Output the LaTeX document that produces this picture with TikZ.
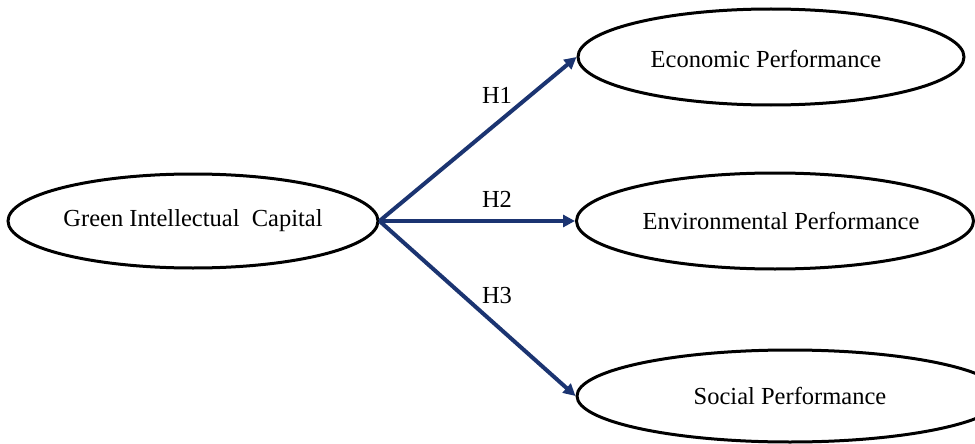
\documentclass[tikz,border=0pt]{standalone}
\usepackage{fontspec}
\setmainfont{Liberation Serif}
\usetikzlibrary{shapes.geometric,arrows.meta}
\definecolor{navy}{HTML}{1B3471}
\tikzset{
  construct/.style={ellipse, draw=black, line width=3pt, inner sep=0pt, font=\fontsize{24.5}{28}\selectfont},
  hyp/.style={draw=navy, line width=4pt, -{Triangle[length=12pt,width=12pt]}},
  hlabel/.style={font=\fontsize{24.5}{28}\selectfont}
}
\begin{document}
\begin{tikzpicture}[x=1pt,y=-1pt]
\useasboundingbox (0,0) rectangle (975,444);
\clip (0,0) rectangle (975,444);
\node[construct, minimum width=370pt, minimum height=94pt] (g) at (193,221) {Green Intellectual\ \ Capital};
\node[construct, minimum width=386pt, minimum height=96pt] (e) at (771,57) {};
\node[hlabel] (et) at (766,59) {Economic Performance};
\node[construct, minimum width=397pt, minimum height=96pt] (v) at (775,221) {};
\node[hlabel] (vt) at (781,221) {Environmental Performance};
\node[construct, minimum width=426pt, minimum height=92pt] (s) at (790,396) {Social Performance};
\draw[hyp] (g.east) -- (e.west);
\draw[hyp] (g.east) -- (v.west);
\draw[hyp] (g.east) -- (s.west);
\node[hlabel] (h1) at (497,95) {H1};
\node[hlabel] (h2) at (497,199) {H2};
\node[hlabel] (h3) at (497,296) {H3};
\end{tikzpicture}
\end{document}
